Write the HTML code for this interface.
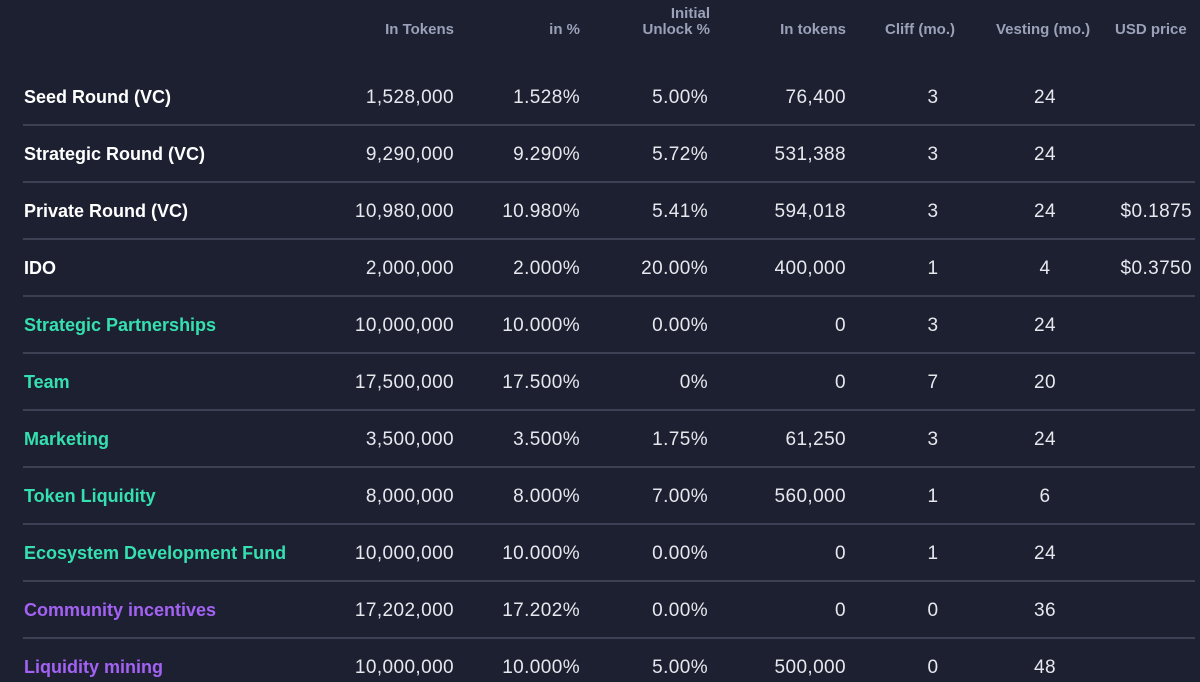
<!DOCTYPE html>
<html><head><meta charset="utf-8"><style>
html,body{margin:0;padding:0;background:#1c2030;width:1200px;height:682px;overflow:hidden;font-family:"Liberation Sans",sans-serif;}
#t{position:relative;width:1200px;height:682px;}
.h{position:absolute;color:#9aa1b9;font-size:15px;font-weight:bold;line-height:16px;text-align:right;}
.c{position:absolute;color:#e6e8ee;font-size:19px;letter-spacing:0.4px;line-height:20px;white-space:nowrap;}
.n{position:absolute;font-size:18px;font-weight:bold;line-height:20px;white-space:nowrap;left:24px;}
.ln{position:absolute;left:23px;width:1172px;height:2px;background:#3b4054;}
</style></head><body>
<div id="t">
<div class="h" style="right:746px;top:22px">In Tokens</div>
<div class="h" style="right:620px;top:22px">in %</div>
<div class="h" style="right:490px;top:6px">Initial<br>Unlock %</div>
<div class="h" style="right:354px;top:22px">In tokens</div>
<div class="h" style="left:885px;top:22px">Cliff (mo.)</div>
<div class="h" style="left:996px;top:22px">Vesting (mo.)</div>
<div class="h" style="left:1115px;top:22px">USD price</div>
</div>
<script>
const names=["Seed Round (VC)","Strategic Round (VC)","Private Round (VC)","IDO","Strategic Partnerships","Team","Marketing","Token Liquidity","Ecosystem Development Fund","Community incentives","Liquidity mining"];
const groups=["w","w","w","w","g","g","g","g","g","p","p"];
const tokens=["1,528,000","9,290,000","10,980,000","2,000,000","10,000,000","17,500,000","3,500,000","8,000,000","10,000,000","17,202,000","10,000,000"];
const pct=["1.528%","9.290%","10.980%","2.000%","10.000%","17.500%","3.500%","8.000%","10.000%","17.202%","10.000%"];
const unlock=["5.00%","5.72%","5.41%","20.00%","0.00%","0%","1.75%","7.00%","0.00%","0.00%","5.00%"];
const unlockTokens=["76,400","531,388","594,018","400,000","0","0","61,250","560,000","0","0","500,000"];
const cliff=["3","3","3","1","3","7","3","1","1","0","0"];
const vesting=["24","24","24","4","24","20","24","6","24","36","48"];
const price=["","","$0.1875","$0.3750","","","","","","",""];
const colors={w:"#ffffff",g:"#35e0b0",p:"#a362f4"};
const t=document.getElementById('t');
function cell(cls,text,style,name){const d=document.createElement('div');d.className=cls;d.textContent=text;d.style.cssText=style;


t.appendChild(d);}
names.forEach((nm,i)=>{
 const cy=97+i*57, top=cy-10, tn=cy-9;
 cell('n',nm,`top:${top}px;color:${colors[groups[i]]}`,'row-name');
 cell('c',tokens[i],`top:${tn}px;right:746px`,'tokens-cell');
 cell('c',pct[i],`top:${tn}px;right:620px`,'percent-cell');
 cell('c',unlock[i],`top:${tn}px;right:492px`,'unlock-percent-cell');
 cell('c',unlockTokens[i],`top:${tn}px;right:354px`,'unlock-tokens-cell');
 cell('c',cliff[i],`top:${tn}px;left:922px;width:22px;text-align:center`,'cliff-cell');
 cell('c',vesting[i],`top:${tn}px;left:1030px;width:30px;text-align:center`,'vesting-cell');
 if(price[i]) cell('c',price[i],`top:${tn}px;right:8px`,'usd-price-cell');
 if(i<names.length-1){const l=document.createElement('div');l.className='ln';l.style.top=(cy+27)+'px';
 
 
 t.appendChild(l);}
});
</script>
</body></html>
